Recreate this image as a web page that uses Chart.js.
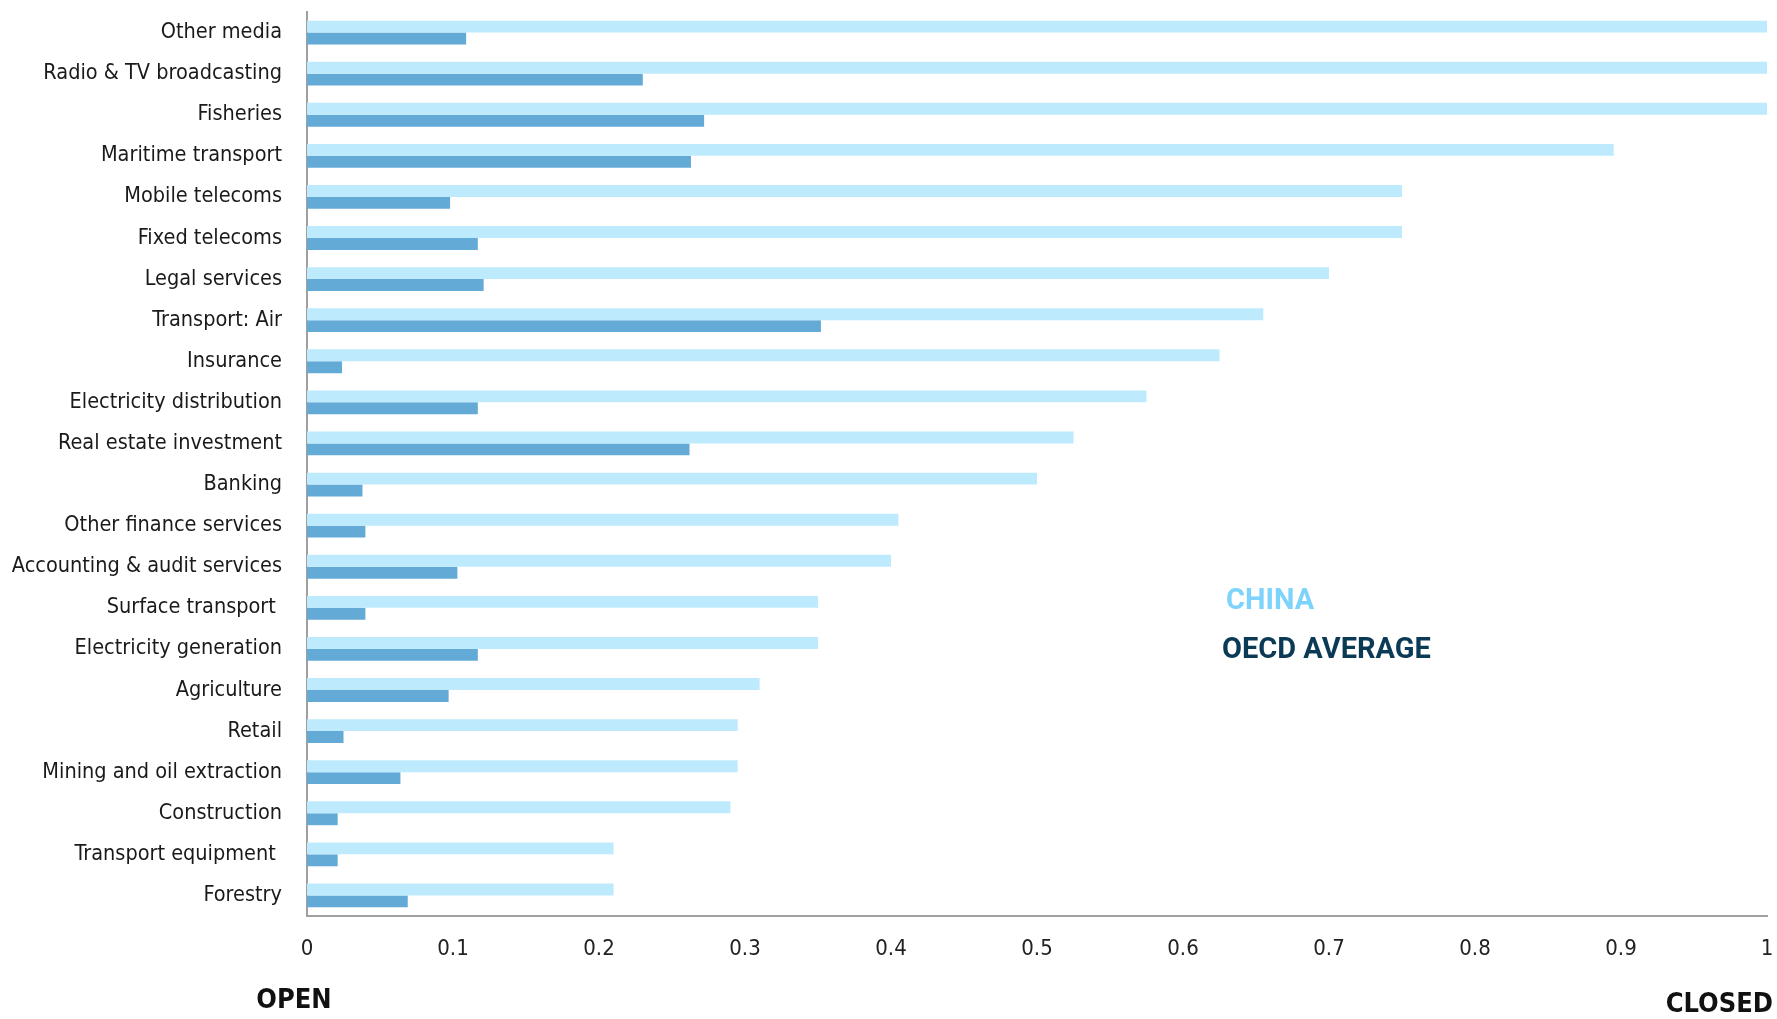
<!DOCTYPE html>
<html>
<head>
<meta charset="utf-8">
<script src="https://cdn.jsdelivr.net/npm/chart.js@4/dist/chart.umd.min.js"></script>
<style>
  html, body { margin: 0; padding: 0; background: #ffffff; }
  #wrap { position: relative; width: 1777px; height: 1019px; }
</style>
</head>
<body>
<div id="wrap"><canvas id="chart"></canvas></div>
<script>
// Sectors, from most to least restricted in China
const sectors = [
  'Other media', 'Radio & TV broadcasting', 'Fisheries', 'Maritime transport',
  'Mobile telecoms', 'Fixed telecoms', 'Legal services', 'Transport: Air',
  'Insurance', 'Electricity distribution', 'Real estate investment', 'Banking',
  'Other finance services', 'Accounting & audit services', 'Surface transport ',
  'Electricity generation', 'Agriculture', 'Retail', 'Mining and oil extraction',
  'Construction', 'Transport equipment ', 'Forestry'
];

// FDI regulatory restrictiveness index (0 = open, 1 = closed)
const chinaValues = [
  1.0, 1.0, 1.0, 0.895,
  0.75, 0.75, 0.70, 0.655,
  0.625, 0.575, 0.525, 0.50,
  0.405, 0.40, 0.35,
  0.35, 0.31, 0.295, 0.295,
  0.29, 0.21, 0.21
];

const oecdValues = [
  0.109, 0.230, 0.272, 0.263,
  0.098, 0.117, 0.121, 0.352,
  0.024, 0.117, 0.262, 0.038,
  0.040, 0.103, 0.040,
  0.117, 0.097, 0.025, 0.064,
  0.021, 0.021, 0.069
];

const xTickLabels = ['0', '0.1', '0.2', '0.3', '0.4', '0.5', '0.6', '0.7', '0.8', '0.9', '1'];

const seriesNames = ['CHINA', 'OECD AVERAGE'];
const barColors = ['#bdebfd', '#63aad7'];
const legendTextColors = ['#7dd3fb', '#0b3a56'];

const labelFont = "'Liberation Sans Narrow', 'DejaVu Sans Condensed', 'Arial Narrow', sans-serif";

// Legend text and the OPEN / CLOSED end markers
const annotations = {
  id: 'annotations',
  afterDraw(chart) {
    const ctx = chart.ctx;
    const area = chart.chartArea;
    ctx.save();
    ctx.textBaseline = 'middle';

    ctx.font = "bold 29px Roboto, 'Liberation Sans', sans-serif";
    ctx.textAlign = 'left';
    ctx.fillStyle = legendTextColors[0];
    ctx.fillText(seriesNames[0], 1226, 602);
    ctx.fillStyle = legendTextColors[1];
    ctx.fillText(seriesNames[1], 1222, 651);

    ctx.font = "bold 27px " + labelFont;
    ctx.fillStyle = '#111111';
    ctx.textAlign = 'center';
    ctx.fillText('OPEN', area.left - 13, 1001);
    ctx.textAlign = 'right';
    ctx.fillText('CLOSED', 1773, 1005);
    ctx.restore();
  }
};

new Chart(document.getElementById('chart'), {
  type: 'bar',
  data: {
    labels: sectors,
    datasets: [
      { label: seriesNames[0], data: chinaValues, backgroundColor: barColors[0] },
      { label: seriesNames[1], data: oecdValues, backgroundColor: barColors[1] }
    ]
  },
  options: {
    indexAxis: 'y',
    responsive: true,
    maintainAspectRatio: false,
    animation: false,
    datasets: { bar: { barPercentage: 1.0, categoryPercentage: 0.58 } },
    layout: { padding: { top: 12, right: 10, bottom: 0, left: 0 } },
    plugins: {
      legend: { display: false },
      tooltip: { enabled: false }
    },
    scales: {
      x: {
        min: 0,
        max: 1,
        grid: { display: false, drawTicks: false },
        border: { display: true, color: '#a0a0a0', width: 2 },
        ticks: {
          stepSize: 0.1,
          padding: 20,
          color: '#222222',
          font: { family: labelFont, size: 22 },
          maxRotation: 0,
          callback: (v, i) => xTickLabels[i]
        },
        afterFit(scale) {
          scale.height = 103;
          scale.paddingLeft = 0;
          scale.paddingRight = 0;
        }
      },
      y: {
        grid: { display: false, drawTicks: false },
        border: { display: true, color: '#a0a0a0', width: 2 },
        ticks: {
          padding: 25,
          color: '#1a1a1a',
          font: { family: labelFont, size: 21.5 },
          autoSkip: false
        },
        afterFit(scale) {
          scale.width = 307;
          scale.paddingTop = 0;
          scale.paddingBottom = 0;
        }
      }
    }
  },
  plugins: [annotations]
});
</script>
</body>
</html>
